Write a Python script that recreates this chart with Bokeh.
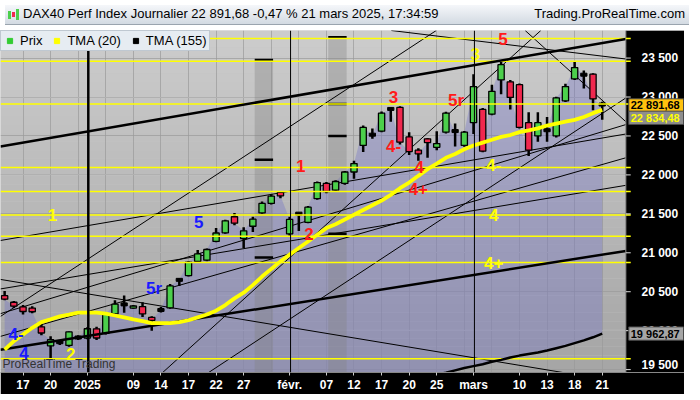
import numpy as np
from bokeh.plotting import figure
from bokeh.models import FixedTicker, Label, Span, Legend, LegendItem, Div, Range1d, Grid
from bokeh.layouts import column
from bokeh.embed import file_html
from bokeh.resources import INLINE
from bokeh.core.properties import value

# ---------------- data ----------------
dates = ["2024-12-13", "2024-12-16", "2024-12-17", "2024-12-18", "2024-12-19", "2024-12-20",
         "2024-12-23", "2024-12-27", "2024-12-30",
         "2025-01-02", "2025-01-03", "2025-01-06", "2025-01-07", "2025-01-08", "2025-01-09",
         "2025-01-10", "2025-01-13", "2025-01-14", "2025-01-15", "2025-01-16", "2025-01-17",
         "2025-01-20", "2025-01-21", "2025-01-22", "2025-01-23", "2025-01-24", "2025-01-27",
         "2025-01-28", "2025-01-29", "2025-01-30", "2025-01-31",
         "2025-02-03", "2025-02-04", "2025-02-05", "2025-02-06", "2025-02-07", "2025-02-10",
         "2025-02-11", "2025-02-12", "2025-02-13", "2025-02-14", "2025-02-17", "2025-02-18",
         "2025-02-19", "2025-02-20", "2025-02-21", "2025-02-24", "2025-02-25", "2025-02-26",
         "2025-02-27", "2025-02-28",
         "2025-03-03", "2025-03-04", "2025-03-05", "2025-03-06", "2025-03-07", "2025-03-10",
         "2025-03-11", "2025-03-12", "2025-03-13", "2025-03-14", "2025-03-17", "2025-03-18",
         "2025-03-19", "2025-03-20", "2025-03-21"]

opens = [20450, 20365, 20305, 20290, 20050, 19805, 19855, 19810, 19915,
         19905, 20024, 19965, 20215, 20345, 20290, 20310, 20170, 20260, 20293, 20650, 20707,
         20890, 20905, 21146, 21256, 21463, 21183, 21341, 21512, 21634, 21775,
         21244, 21500, 21390, 21695, 21890, 21805, 21890, 22037, 22378, 22520, 22561, 22850,
         22866, 22488, 22317, 22463, 22354, 22549, 22575, 22378,
         22671, 22841, 22780, 23220, 23195, 23159, 22671, 22500, 22580, 22500, 22951, 23232,
         23285, 23293, 22915]
highs = [20510, 20380, 20330, 20315, 20085, 19927, 19880, 19990, 19940,
         20045, 20050, 20230, 20390, 20451, 20330, 20366, 20185, 20305, 20600, 20670, 20895,
         21037, 21055, 21317, 21425, 21512, 21329, 21463, 21659, 21750, 21790,
         21463, 21512, 21600, 21915, 21910, 21930, 22050, 22183, 22635, 22597, 22815, 22866,
         22880, 22549, 22341, 22475, 22561, 22810, 22659, 22565,
         23293, 22860, 23159, 23463, 23220, 23175, 22805, 22805, 22744, 23005, 23170, 23463,
         23341, 23305, 22939]
lows = [20390, 20290, 20207, 20225, 19940, 19646, 19817, 19795, 19880,
        19890, 19880, 19950, 20200, 20230, 20280, 20175, 20000, 20232, 20280, 20573, 20695,
        20878, 20890, 21135, 21245, 21355, 21061, 21268, 21500, 21620, 21700,
        21220, 21280, 21380, 21680, 21765, 21790, 21875, 21951, 22293, 22463, 22549, 22683,
        22390, 22256, 22183, 22220, 22317, 22530, 22366, 22360,
        22524, 22290, 22765, 23037, 22841, 22595, 22244, 22427, 22427, 22480, 22935, 23220,
        23110, 22829, 22707]
closes = [20405, 20314, 20246, 20243, 19970, 19885, 19849, 19984, 19909,
          20025, 19906, 20216, 20340, 20330, 20317, 20215, 20133, 20271, 20575, 20655, 20880,
          20985, 21042, 21254, 21410, 21380, 21282, 21431, 21634, 21727, 21732,
          21428, 21505, 21586, 21902, 21787, 21915, 22037, 22146, 22610, 22513, 22793, 22844,
          22420, 22300, 22270, 22415, 22402, 22793, 22551, 22549,
          23134, 22305, 23073, 23415, 22995, 22610, 22317, 22671, 22567, 22988, 23134, 23378,
          23288, 22976, 22891.68]

tma20 = [19756, 19866, 19951, 20037, 20110, 20146, 20183, 20207, 20232,
         20232, 20232, 20220, 20195, 20171, 20146, 20122, 20098, 20098, 20098, 20110, 20134,
         20171, 20207, 20256, 20329, 20415, 20488, 20585, 20695, 20793, 20890,
         20976, 21061, 21146, 21232, 21317, 21366, 21427, 21488, 21549, 21610, 21671, 21744,
         21829, 21902, 21988, 22073, 22146, 22220, 22268, 22329,
         22378, 22415, 22451, 22488, 22512, 22549, 22573, 22598, 22634, 22659, 22683, 22707,
         22744, 22793, 22834.48]

tma155_first = "2025-02-24"
tma155 = [19410, 19437, 19460, 19490, 19520, 19545, 19570, 19600, 19625, 19655, 19680,
          19700, 19720, 19745, 19775, 19805, 19840, 19875, 19915, 19962.87]

x_tick_labels = {"2024-12-17": "17", "2024-12-20": "20", "2025-01-02": "2025", "2025-01-09": "09",
                 "2025-01-14": "14", "2025-01-17": "17", "2025-01-22": "22", "2025-01-27": "27",
                 "2025-02-03": "févr.", "2025-02-07": "07", "2025-02-12": "12", "2025-02-17": "17",
                 "2025-02-20": "20", "2025-02-25": "25", "2025-03-03": "mars", "2025-03-10": "10",
                 "2025-03-13": "13", "2025-03-18": "18", "2025-03-21": "21"}
y_ticks = [19500, 20000, 20500, 21000, 21500, 22000, 22500, 23000, 23500]
y_tick_labels = ["19 500", "20 000", "20 500", "21 000", "21 500", "22 000", "22 500", "23 000", "23 500"]

# last-value boxes on the price scale
last_values = [22891.68, 22834.48, 19962.87]
last_texts = ["22 891,68", "22 834,48", "19 962,87"]

# legend entries
legend_names = ["Prix", "TMA (20)", "TMA (155)"]
legend_colors = ["#33cc33", "#ffff00", "black"]

# horizontal yellow levels
yellow_levels = [23752, 23460, 22911, 22094, 21787, 21484, 21213, 20874, 19638]

# drawn trend lines: (start index, start price, end index, end price)
thick_lines = [(-0.45, 22366, 67.57, 23744), (-0.45, 19756, 67.57, 21024)]
thin_lines = [(-0.45, 21158, 67.57, 22525), (-0.45, 20183, 46.95, 23854), (-0.45, 20536, 67.57, 21866),
              (-0.45, 20658, 67.57, 19329), (-0.45, 20219, 67.57, 22646), (-0.45, 19927, 67.57, 22220),
              (17.19, 19463, 58.32, 23854), (22.19, 19463, 67.57, 22988), (56.62, 23854, 67.57, 22683),
              (42.06, 23854, 67.57, 23488)]

# grey zones: (first idx, last idx, top price, marks)
zones = [(27.2, 29.2, 23476, [23476, 22195, 20939]), (35.2, 37.2, 23768, [23768, 22911, 22500, 21244])]

# wave labels (text, index, price, colour)
wave_text = ["1", "4-", "4", "2", "5r", "5", "1", "2", "3", "4-", "4", "4+", "5r", "5", "3", "4-", "4", "4+"]
wave_x = [5.2, 1.25, 2.1, 7.2, 16.25, 21.1, 32.2, 33.1, 42.3, 42.3, 45.1, 45.0, 49.1, 54.2, 51.2, 53.2, 53.2, 53.2]
wave_y = [21488, 19951, 19707, 19695, 20536, 21390, 22110, 21244, 23000, 22366, 22098, 21817, 22951, 23740,
          23549, 22122, 21488, 20866]
wave_col = ["#ffff00", "#1a1aff", "#1a1aff", "#ffff00", "#1a1aff", "#1a1aff", "#ff1a1a", "#ff1a1a", "#ff1a1a",
            "#ff1a1a", "#ff1a1a", "#ff1a1a", "#ff1a1a", "#ff1a1a", "#ffff00", "#ffff00", "#ffff00", "#ffff00"]

# ---------------- figure ----------------
X0, X1, X2 = -0.45, 67.57, 73.95      # plot left, plot right (price-scale start), canvas right
Y0, Y1 = 19463, 23854
PX = (X1 - X0) / 640.0                # data units per reference pixel
PY = (Y1 - Y0) / 360.0
idx = np.arange(len(dates))
pos = {d: i for i, d in enumerate(dates)}

p = figure(width=684, height=364, output_backend="svg", toolbar_location=None,
           x_range=Range1d(X0, X2), y_range=Range1d(Y0, Y1), y_axis_location=None,
           min_border_left=0, min_border_top=0, min_border_bottom=18, min_border_right=0)
p.background_fill_color = "#c4c4c4"
p.border_fill_color = "black"
p.outline_line_color = None

# background gradient
ys = np.linspace(Y0, Y1, 41)
shade = np.linspace(0xa6, 0xcc, 40).astype(int)
p.quad(left=X0, right=X1, bottom=ys[:-1], top=ys[1:],
       fill_color=["#%02x%02x%02x" % (s, s, s) for s in shade], line_color=None, level="image")

p.add_layout(Grid(dimension=1, ticker=FixedTicker(ticks=y_ticks), grid_line_color="#9a9a9a", grid_line_alpha=0.7))

# area under price
base = [Y0] * len(dates)
k0 = pos[tma155_first]
for j, v in enumerate(tma155):
    base[k0 + j] = max(v, Y0)
p.varea(x=idx, y1=base, y2=closes, fill_color="#6a6ac8", fill_alpha=0.33)

# grey zones
for (a, b, top, marks) in zones:
    p.quad(left=a, right=b, bottom=Y0, top=top, fill_color="#808080", fill_alpha=0.35, line_color=None)
    p.segment(x0=[a] * len(marks), y0=marks, x1=[b] * len(marks), y1=marks, line_color="black", line_width=2.5)

# month / year separators
p.add_layout(Span(location=pos["2025-01-02"] + 0.1, dimension="height", line_color="black", line_width=2.5))
p.add_layout(Span(location=pos["2025-02-03"] + 0.1, dimension="height", line_color="black", line_width=1))
p.add_layout(Span(location=pos["2025-03-03"] + 0.1, dimension="height", line_color="black", line_width=1))

# trend lines (thin, under the candles)
p.segment(x0=[t[0] for t in thin_lines], y0=[t[1] for t in thin_lines],
          x1=[t[2] for t in thin_lines], y1=[t[3] for t in thin_lines], line_color="black", line_width=1)

# candles
o = np.array(opens, float); c = np.array(closes, float)
doji = np.abs(c - o) < 25
up = (c > o) & ~doji
dn = (c < o) & ~doji
p.segment(x0=idx, y0=lows, x1=idx, y1=highs, line_color="black", line_width=2.5)
w = 0.68
p.vbar(x=idx[up], bottom=o[up], top=c[up], width=w, fill_color="#4ccf4c", line_color="black", line_width=1.3)
p.vbar(x=idx[dn], bottom=c[dn], top=o[dn], width=w, fill_color="#f0284e", line_color="black", line_width=1.3)
p.rect(x=idx[doji], y=(o[doji] + c[doji]) / 2, width=w, height=3, height_units="screen",
       fill_color="black", line_color="black")

# yellow levels
n = len(yellow_levels)
p.segment(x0=[X0] * n, y0=yellow_levels, x1=[X1] * n, y1=yellow_levels, line_color="#ffff00", line_width=1.5)

# thick trend lines
p.segment(x0=[t[0] for t in thick_lines], y0=[t[1] for t in thick_lines],
          x1=[t[2] for t in thick_lines], y1=[t[3] for t in thick_lines], line_color="black", line_width=2.5)

# moving averages
p.line(idx, tma20, line_color="#ffff00", line_width=3.8)
p.line(idx[k0:k0 + len(tma155)], tma155, line_color="black", line_width=2.5)

# wave labels
p.text(x=wave_x, y=wave_y, text=wave_text, text_color=wave_col, text_font=value("Liberation Sans"),
       text_font_style="bold", text_font_size="17px", text_align="center", text_baseline="middle")

# ---------------- price scale (right) ----------------
p.quad(left=X1, right=X2, bottom=Y0, top=Y1, fill_color="black", line_color=None)
p.segment(x0=[X1], y0=[Y0], x1=[X1], y1=[Y1], line_color="#8a8a8a", line_width=1)
p.segment(x0=[X1] * n, y0=yellow_levels, x1=[X1 + 5 * PX] * n, y1=yellow_levels, line_color="#ffff00", line_width=1.5)
p.segment(x0=[X1] * len(y_ticks), y0=y_ticks, x1=[X1 + 5 * PX] * len(y_ticks), y1=y_ticks,
          line_color="#dddddd", line_width=1)
lab_y = [max(t, Y0 + 8 * PY) for t in y_ticks]
p.text(x=[X1 + 16 * PX] * len(y_ticks), y=lab_y, text=y_tick_labels, text_color="white",
       text_font=value("Liberation Sans"), text_font_style="bold", text_font_size="12px",
       text_align="left", text_baseline="middle")

box_y = list(last_values)
if box_y[0] - box_y[1] < 13 * PY:
    box_y[1] = box_y[0] - 13 * PY
box_bg = ["#ffc20e", "#8e8e8e", "#a6a6a6"]
box_fg = ["black", "#ffff00", "black"]
p.quad(left=[X1 + 3 * PX] * 3, right=[X2 - 1 * PX] * 3, bottom=[v - 7 * PY for v in box_y],
       top=[v + 7 * PY for v in box_y], fill_color=box_bg, line_color="#4a4a4a", line_width=1)
p.text(x=[X1 + 5 * PX] * 3, y=box_y, text=last_texts, text_color=box_fg, text_font=value("Liberation Sans"),
       text_font_style="bold", text_font_size="11px", text_align="left", text_baseline="middle")

# legend
far = [X0 - 50]
items = []
for name, col in zip(legend_names, legend_colors):
    r = p.scatter(x=far, y=far, marker="square", size=13, fill_color=col, line_color=col)
    items.append(LegendItem(label=name, renderers=[r]))
p.add_layout(Legend(items=items, orientation="horizontal", location="top_left", margin=0, padding=2,
                    spacing=8, glyph_width=13, glyph_height=13, label_standoff=4,
                    label_text_font="Liberation Sans", label_text_font_size="13px", label_text_color="black",
                    background_fill_color="#e6ecf2", background_fill_alpha=1, border_line_color="#98a4b0",
                    label_height=14))

p.add_layout(Label(x=X0, y=Y0, x_offset=2, y_offset=2, text="ProRealTime Trading", text_color="#333333",
                   text_font="Liberation Sans", text_font_size="12px"))

# ---------------- time axis ----------------
p.xaxis.ticker = FixedTicker(ticks=[pos[d] for d in x_tick_labels], minor_ticks=list(range(2, len(dates), 3)))
p.xaxis.major_label_overrides = {pos[d]: t for d, t in x_tick_labels.items()}
p.xaxis.major_label_text_color = "white"
p.xaxis.major_label_text_font = "Liberation Sans"
p.xaxis.major_label_text_font_style = "bold"
p.xaxis.major_label_text_font_size = "12px"
p.xaxis.major_label_standoff = 1
p.xaxis.major_tick_out = 3
p.xaxis.major_tick_in = 0
p.xaxis.minor_tick_line_color = None
p.xaxis.major_tick_line_color = "#cccccc"
p.xaxis.axis_line_color = "#888888"
p.xgrid.grid_line_color = None
p.xgrid.minor_grid_line_color = "#9a9a9a"
p.xgrid.minor_grid_line_alpha = 0.7

title = Div(text=(
    '<div style="display:flex;justify-content:space-between;align-items:center;width:684px;height:20px;'
    'background:linear-gradient(#f5f7fa,#d3dae2);font-family:\'Liberation Sans\',Arial;font-size:13px;color:#000;'
    'box-sizing:border-box;border-bottom:1px solid #9aa4ae;">'
    '<span style="padding-left:3px;white-space:nowrap;">'
    '<span style="display:inline-block;width:3px;height:8px;background:#4ccf4c;margin-right:1px;vertical-align:middle"></span>'
    '<span style="display:inline-block;width:3px;height:5px;background:#f0284e;margin-right:1px;vertical-align:middle"></span>'
    '<span style="display:inline-block;width:3px;height:11px;background:#4ccf4c;margin-right:4px;vertical-align:middle"></span>'
    'DAX40 Perf Index Journalier 22 891,68 -0,47 % 21 mars 2025, 17:34:59</span>'
    '<span style="padding-right:4px;white-space:nowrap;">Trading.ProRealTime.com</span></div>'),
    width=684, height=20)

layout = column(title, p, spacing=0)
open("out.html", "w").write(file_html(layout, INLINE))
